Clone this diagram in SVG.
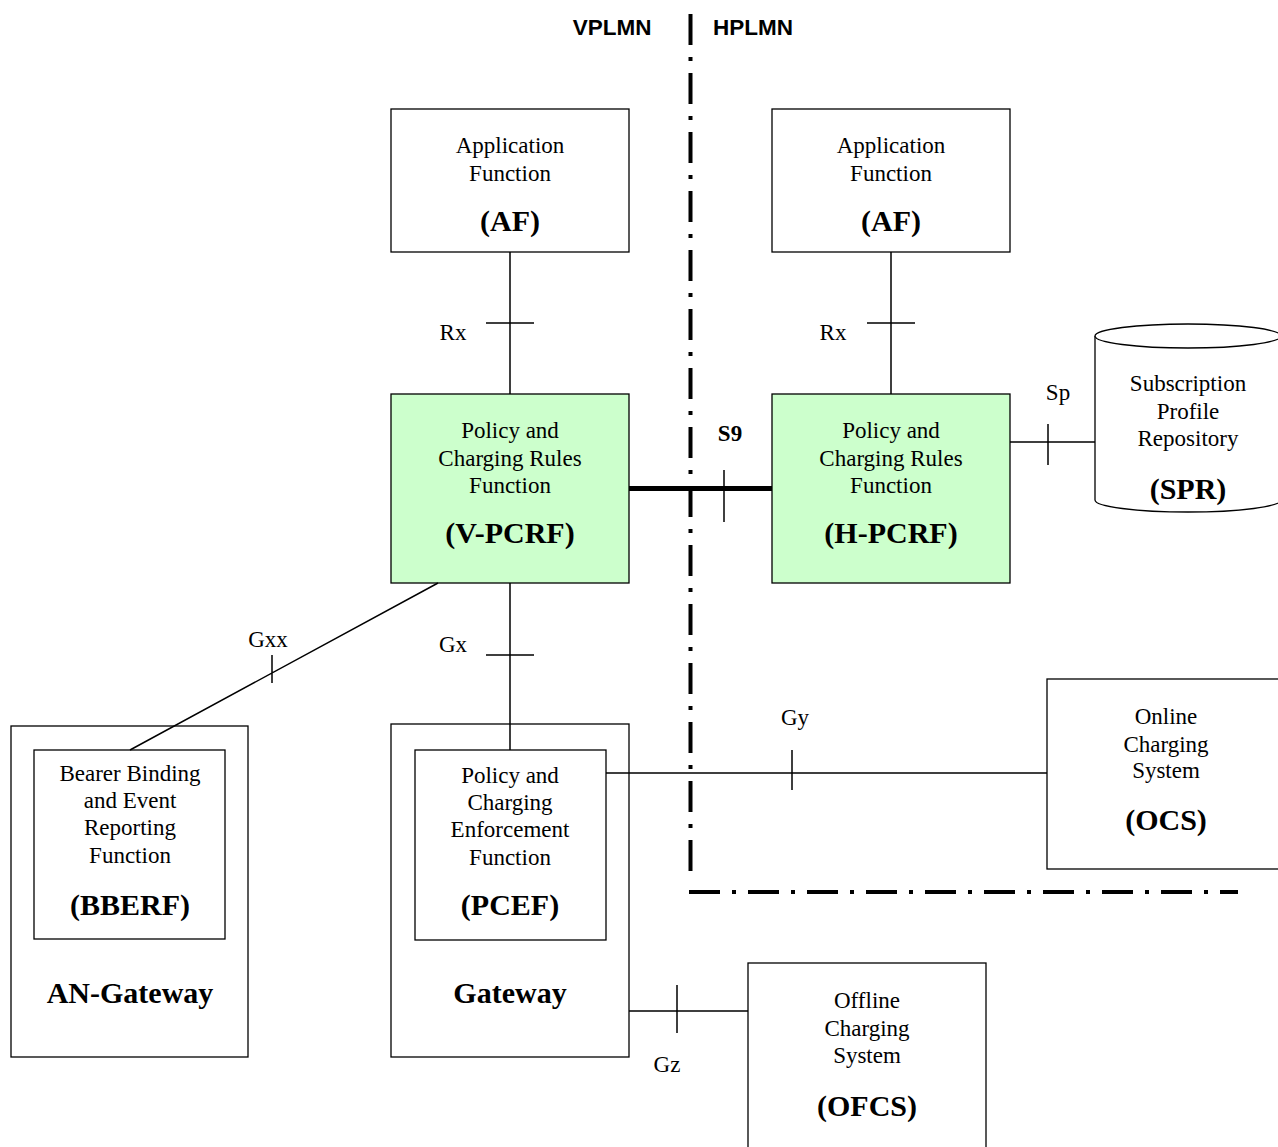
<svg xmlns="http://www.w3.org/2000/svg" width="1278" height="1147" viewBox="0 0 1278 1147">
<style>
.box{fill:#fff;stroke:#000;stroke-width:1.3}
.pcrf{fill:#ccffcc;stroke:#000;stroke-width:1.3}
.t{font-family:"Liberation Serif","Times New Roman",serif;font-size:23px;fill:#000;text-anchor:middle}
.b{font-family:"Liberation Serif","Times New Roman",serif;font-size:30px;font-weight:bold;fill:#000;text-anchor:middle}
.hdr{font-family:"Liberation Sans",Arial,sans-serif;font-size:22.5px;font-weight:bold;fill:#000;text-anchor:middle}
.ln{stroke:#000;stroke-width:1.5;fill:none}
.dd{stroke:#000;stroke-width:4;fill:none;stroke-dasharray:31 12 4 12}
</style>
<rect width="1278" height="1147" fill="#fff"/>
<g id="boundary">
<text class="hdr" x="612" y="35">VPLMN</text>
<text class="hdr" x="753" y="35">HPLMN</text>
<path class="dd" d="M690.5 14 V878"/>
<path class="dd" d="M689 892 H1238"/>
</g>
<g id="af-v">
<rect class="box" x="391" y="109" width="238" height="143"/>
<text class="t" x="510" y="153">Application</text>
<text class="t" x="510" y="181">Function</text>
<text class="b" x="510" y="231">(AF)</text>
</g>
<g id="af-h">
<rect class="box" x="772" y="109" width="238" height="143"/>
<text class="t" x="891" y="153">Application</text>
<text class="t" x="891" y="181">Function</text>
<text class="b" x="891" y="231">(AF)</text>
</g>
<g id="v-pcrf">
<rect class="pcrf" x="391" y="394" width="238" height="189"/>
<text class="t" x="510" y="438">Policy and</text>
<text class="t" x="510" y="466">Charging Rules</text>
<text class="t" x="510" y="493">Function</text>
<text class="b" x="510" y="543">(V-PCRF)</text>
</g>
<g id="h-pcrf">
<rect class="pcrf" x="772" y="394" width="238" height="189"/>
<text class="t" x="891" y="438">Policy and</text>
<text class="t" x="891" y="466">Charging Rules</text>
<text class="t" x="891" y="493">Function</text>
<text class="b" x="891" y="543">(H-PCRF)</text>
</g>
<g id="spr">
<path class="box" d="M1095 336 V500 A93 12 0 0 0 1281 500 V336"/>
<ellipse class="box" cx="1188" cy="336" rx="93" ry="12"/>
<text class="t" x="1188" y="391">Subscription</text>
<text class="t" x="1188" y="419">Profile</text>
<text class="t" x="1188" y="446">Repository</text>
<text class="b" x="1188" y="499">(SPR)</text>
</g>
<g id="an-gateway">
<rect class="box" x="11" y="726" width="237" height="331"/>
<text class="b" x="130" y="1003">AN-Gateway</text>
</g>
<g id="bberf">
<rect class="box" x="34" y="750" width="191" height="189"/>
<text class="t" x="130" y="781">Bearer Binding</text>
<text class="t" x="130" y="808">and Event</text>
<text class="t" x="130" y="835">Reporting</text>
<text class="t" x="130" y="863">Function</text>
<text class="b" x="130" y="915">(BBERF)</text>
</g>
<g id="gateway">
<rect class="box" x="391" y="724" width="238" height="333"/>
<text class="b" x="510" y="1003">Gateway</text>
</g>
<g id="pcef">
<rect class="box" x="415" y="750" width="191" height="190"/>
<text class="t" x="510" y="783">Policy and</text>
<text class="t" x="510" y="810">Charging</text>
<text class="t" x="510" y="837">Enforcement</text>
<text class="t" x="510" y="865">Function</text>
<text class="b" x="510" y="915">(PCEF)</text>
</g>
<g id="ocs">
<rect class="box" x="1047" y="679" width="245" height="190"/>
<text class="t" x="1166" y="724">Online</text>
<text class="t" x="1166" y="752">Charging</text>
<text class="t" x="1166" y="778">System</text>
<text class="b" x="1166" y="830">(OCS)</text>
</g>
<g id="ofcs">
<rect class="box" x="748" y="963" width="238" height="195"/>
<text class="t" x="867" y="1008">Offline</text>
<text class="t" x="867" y="1036">Charging</text>
<text class="t" x="867" y="1063">System</text>
<text class="b" x="867" y="1116">(OFCS)</text>
</g>
<g id="connectors">
<path class="ln" d="M510 252 V394 M486 323 H534"/>
<text class="t" x="453" y="340">Rx</text>
<path class="ln" d="M891 252 V394 M867 323 H915"/>
<text class="t" x="833" y="340">Rx</text>
<path stroke="#000" stroke-width="5" d="M629 488.5 H772"/>
<path class="ln" d="M724 470 V522"/>
<text class="t" x="730" y="441" font-weight="bold">S9</text>
<path class="ln" d="M1010 442 H1095 M1048 424 V465"/>
<text class="t" x="1058" y="400">Sp</text>
<path class="ln" d="M510 583 V750 M486 655 H534"/>
<text class="t" x="453" y="652">Gx</text>
<path class="ln" d="M438 583 L130 750 M272 655 V683"/>
<text class="t" x="268" y="647">Gxx</text>
<path class="ln" d="M606 773 H1047 M792 750 V790"/>
<text class="t" x="795" y="725">Gy</text>
<path class="ln" d="M629 1011 H748 M677 985 V1033"/>
<text class="t" x="667" y="1072">Gz</text>
</g>
</svg>
